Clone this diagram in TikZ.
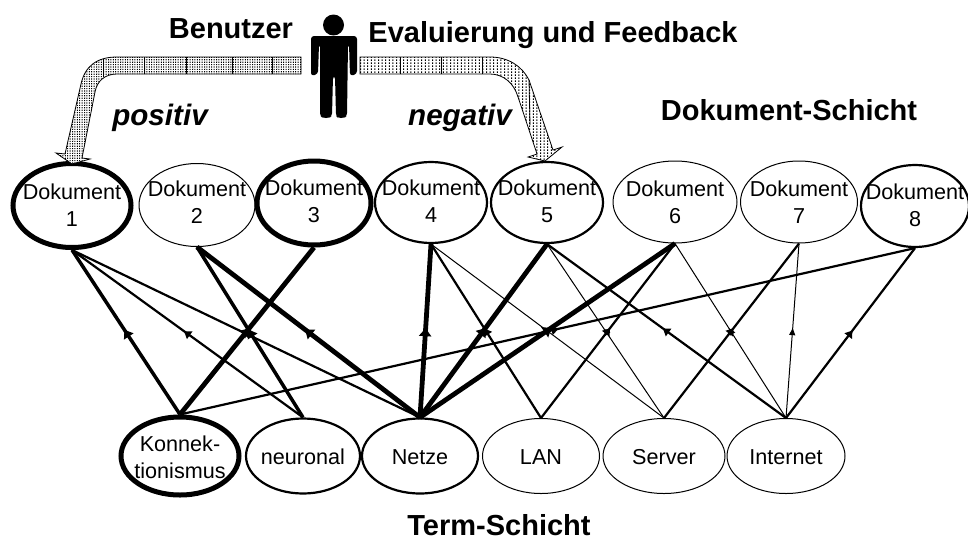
\documentclass[tikz,border=0pt]{standalone}
\usepackage{fontspec}
\setmainfont{Liberation Sans}
\usetikzlibrary{shapes.geometric,patterns,decorations.markings,arrows.meta}
\pgfdeclarepatternformonly{finedots}{\pgfqpoint{0pt}{0pt}}{\pgfqpoint{1pt}{1pt}}{\pgfqpoint{2.4pt}{2.4pt}}{\pgfpathrectangle{\pgfqpoint{0pt}{0pt}}{\pgfqpoint{1.2pt}{1.2pt}}\pgfpathrectangle{\pgfqpoint{1.2pt}{1.2pt}}{\pgfqpoint{1.2pt}{1.2pt}}\pgfusepath{fill}}
\pgfdeclarepatternformonly{coarsedots}{\pgfqpoint{0pt}{0pt}}{\pgfqpoint{1pt}{1pt}}{\pgfqpoint{3.6pt}{3pt}}{\pgfpathrectangle{\pgfqpoint{0pt}{0pt}}{\pgfqpoint{1.8pt}{1.5pt}}\pgfpathrectangle{\pgfqpoint{1.8pt}{1.5pt}}{\pgfqpoint{1.8pt}{1.5pt}}\pgfusepath{fill}}
\newsavebox\lblbox
\newcommand\lbl[2][0pt]{\sbox\lblbox{\begin{tabular}{@{}c@{}}#2\end{tabular}}\makebox[0pt]{\raisebox{\dimexpr(\dp\lblbox-\ht\lblbox)/2+#1\relax}[0pt][0pt]{\usebox\lblbox}}}
\tikzset{
  doc/.style={ellipse,draw,inner sep=0pt,font=\fontsize{21.6}{27}\selectfont,minimum width=116pt,minimum height=83pt},
  wthin/.style={line width=1pt},
  wmed/.style={line width=2.2pt},
  wheavy/.style={line width=5pt},
  headed/.style n args={2}{postaction={decorate,decoration={markings,mark=at position 0.515 with {\arrow{Triangle[length=#1,width=#2]}}}}},
  ethin/.style={line width=1pt,headed={7pt}{6pt}},
  emed/.style={line width=2.2pt,headed={7pt}{9pt}},
  ethick/.style={line width=3.5pt,headed={8pt}{11pt}},
  eheavy/.style={line width=4.8pt,headed={8pt}{12pt}},
  head/.style={font=\fontsize{29}{34}\selectfont\bfseries,inner sep=0pt,anchor=base},
  headit/.style={font=\fontsize{29.6}{34}\selectfont\bfseries\itshape,inner sep=0pt,anchor=base},
  band/.style={draw=black,line width=.8pt},
  tick/.style={line width=.8pt}
}
\begin{document}
\begin{tikzpicture}[x=1pt,y=-1pt]
\useasboundingbox (0,0) rectangle (968,538);
% documents
\node[doc,wheavy,minimum width=118pt,minimum height=84pt] (d1) at (72,205.5) {\lbl[-2pt]{Dokument\\1}};
\node[doc,wthin] (d2) at (197,205) {\lbl{Dokument\\2}};
\node[doc,wheavy,minimum width=114pt,minimum height=84pt] (d3) at (314,203) {\lbl[-1pt]{Dokument\\3}};
\node[doc,wmed,minimum width=112pt,minimum height=81pt] (d4) at (431,202.5) {\lbl[-1pt]{Dokument\\4}};
\node[doc,wmed,minimum width=112pt,minimum height=81pt] (d5) at (547,202.5) {\lbl[-1pt]{Dokument\\5}};
\node[doc,wthin,minimum width=124pt,minimum height=82pt] (d6) at (675,202) {\lbl[-2.5pt]{Dokument\\6}};
\node[doc,wthin,minimum width=117pt,minimum height=82pt] (d7) at (799,202) {\lbl[-2.5pt]{Dokument\\7}};
\node[doc,wmed,minimum width=108pt,minimum height=82pt] (d8) at (915,206) {\lbl[-2pt]{Dokument\\8}};
% terms
\node[doc,wheavy,minimum width=118pt,minimum height=78pt] (t1) at (180,456) {\lbl[-4pt]{Konnek-\\tionismus}};
\node[doc,wmed,minimum width=114pt,minimum height=75pt] (t2) at (303,456) {\lbl[-3pt]{neuronal}};
\node[doc,wmed,minimum width=116pt,minimum height=75pt] (t3) at (420,456) {\lbl[-3pt]{Netze}};
\node[doc,wthin,minimum width=117pt,minimum height=75pt] (t4) at (541,456) {\lbl[-3pt]{LAN}};
\node[doc,wthin,minimum width=122pt,minimum height=75pt] (t5) at (664,456) {\lbl[-3pt]{Server}};
\node[doc,wthin,minimum width=118pt,minimum height=75pt] (t6) at (786,456) {\lbl[-3pt]{Internet}};
% connectors
\draw[ethick] (t1.north) -- (d1.south);
\draw[eheavy] (t1.north) -- (d3.south);
\draw[emed] (t1.north) -- (d8.south);
\draw[emed] (t2.north) -- (d1.south);
\draw[ethick] (t2.north) -- (d2.south);
\draw[emed] (t3.north) -- (d1.south);
\draw[eheavy] (t3.north) -- (d2.south);
\draw[eheavy] (t3.north) -- (d4.south);
\draw[eheavy] (t3.north) -- (d5.south);
\draw[eheavy] (t3.north) -- (d6.south);
\draw[emed] (t4.north) -- (d4.south);
\draw[emed] (t4.north) -- (d6.south);
\draw[ethin] (t5.north) -- (d4.south);
\draw[ethin] (t5.north) -- (d5.south);
\draw[emed] (t5.north) -- (d7.south);
\draw[emed] (t6.north) -- (d5.south);
\draw[ethin] (t6.north) -- (d6.south);
\draw[ethin] (t6.north) -- (d7.south);
\draw[emed] (t6.north) -- (d8.south);
% feedback arrows
\filldraw[band,fill=white] (301,57) -- (117,57) .. controls (97,57) and (85,66) .. (81,84) -- (65,154) -- (56,153) -- (72,164) -- (90,159) -- (82,158) -- (95,92) .. controls (97,81) and (105,74) .. (117,74) -- (301,74) -- cycle;
\fill[pattern=finedots,pattern color=black] (301,57) -- (117,57) .. controls (97,57) and (85,66) .. (81,84) -- (65,154) -- (56,153) -- (72,164) -- (90,159) -- (82,158) -- (95,92) .. controls (97,81) and (105,74) .. (117,74) -- (301,74) -- cycle;
\draw[tick] (103,59) -- (103,77);
\foreach \xx in {144,186,232,272} \draw[tick] (\xx,57) -- (\xx,74);
\filldraw[band,fill=white] (360,57) -- (490,57) .. controls (508,57) and (522,66) .. (529,80) -- (553,150) -- (562,147) -- (545,161) -- (528,157) -- (537,154) -- (518,97) .. controls (514,83) and (503,74) .. (490,74) -- (360,74) -- cycle;
\fill[pattern=coarsedots,pattern color=black] (360,57) -- (490,57) .. controls (508,57) and (522,66) .. (529,80) -- (553,150) -- (562,147) -- (545,161) -- (528,157) -- (537,154) -- (518,97) .. controls (514,83) and (503,74) .. (490,74) -- (360,74) -- cycle;
\foreach \xx in {400,441,482} \draw[tick] (\xx,57) -- (\xx,74);
\draw[tick] (529,80) -- (530,125);
% person
\fill (333.5,25) circle (10.5);
\fill[rounded corners=3pt] (311,36) -- (357,36) -- (357,74) -- (350,76) -- (349,44) -- (348,44) -- (347,116) -- (344,118) -- (338,118) -- (336,116) -- (335,76) -- (333,76) -- (332,116) -- (329,118) -- (323,118) -- (320,116) -- (320,44) -- (319,44) -- (318,74) -- (311,76) -- cycle;
% labels
\node[head] (ben) at (231,38) {Benutzer};
\node[head] (eval) at (553,42) {Evaluierung und Feedback};
\node[headit] (pos) at (160,125) {positiv};
\node[headit] (neg) at (460,125) {negativ};
\node[head] (ds) at (789,120) {Dokument-Schicht};
\node[head] (ts) at (499,535) {Term-Schicht};
\end{tikzpicture}
\end{document}
